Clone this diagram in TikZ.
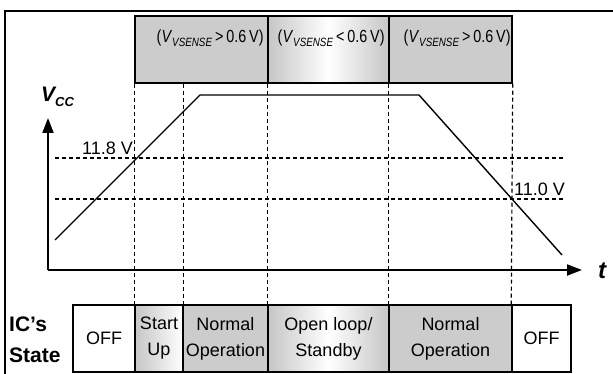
\documentclass[tikz,border=0pt]{standalone}
\usepackage{fontspec}
\setmainfont{Liberation Sans}
\newfontfamily\narrowfont{Liberation Sans}[FakeStretch=0.82]
\usepackage{xcolor}
\usepackage{tikz}
\usetikzlibrary{arrows.meta}

\newcommand{\condvs}[1]{(\textit{V}\raisebox{-4pt}{\fontsize{12}{12}\selectfont\itshape VSENSE}\,#1\,0.6\,V)}

\begin{document}
\begin{tikzpicture}[x=1pt, y=-1pt]
      % Definición de estilos
      \tikzstyle{estado}=[draw, line width=1.5pt, minimum height=67pt, inner sep=0pt, align=center, font=\fontsize{18}{26}\selectfont]
      \tikzstyle{gris}=[fill=gray!40]
      \tikzstyle{degradado}=[left color=gray!45, right color=gray!45, middle color=white]
      \tikzstyle{guia}=[dash pattern=on 4pt off 3pt, line width=1.2pt]
      \tikzstyle{eje}=[line width=2pt, -{Triangle[length=15pt, width=11pt]}]
      \tikzstyle{cond}=[font=\narrowfont\fontsize{17.5}{19}\selectfont, anchor=north east, inner sep=0pt]
      \tikzstyle{umbral}=[font=\fontsize{18}{20}\selectfont, inner sep=0pt]

      \useasboundingbox (0,0) rectangle (613,374);

      % Marco
      \draw[line width=2.5pt] (5,374) -- (5,11) -- (613,11);

      % Condiciones de VSENSE
      \node[estado, gris, minimum width=133pt] (vs1) at (201.5,49.5) {};
      \node[estado, degradado, minimum width=121pt] (vs2) at (328.5,49.5) {};
      \node[estado, gris, minimum width=123pt] (vs3) at (450.5,49.5) {};
      \node[cond] (cond1) at ([shift={(-5,14)}]vs1.north east) {\condvs{>}};
      \node[cond] (cond2) at ([shift={(-5,14)}]vs2.north east) {\condvs{<}};
      \node[cond] (cond3) at ([shift={(-2,14)}]vs3.north east) {\condvs{>}};

      % Estados del IC
      \node[estado, minimum width=62pt] (off1) at (104,338.5) {OFF};
      \node[estado, left color=gray!45, right color=white, minimum width=48pt] (arranque) at (159,338.5) {Start\\Up};
      \node[estado, gris, minimum width=85pt] (normal1) at (225.5,338.5) {Normal\\Operation};
      \node[estado, degradado, minimum width=121pt] (espera) at (328.5,338.5) {Open loop/\\Standby};
      \node[estado, gris, minimum width=123pt] (normal2) at (450.5,338.5) {Normal\\Operation};
      \node[estado, minimum width=59pt] (off2) at (541.5,338.5) {OFF};
      \node[anchor=west, align=left, inner sep=0pt, font=\bfseries\fontsize{21}{31}\selectfont] (ics) at (9,340) {IC's\\State};

      % Guías verticales
      \draw[guia] (vs1.south west) -- (arranque.north west);
      \draw[guia] (arranque.north east |- vs1.south) -- (arranque.north east);
      \draw[guia] (vs2.south west) -- (espera.north west);
      \draw[guia] (vs3.south west) -- (normal2.north west);
      \draw[guia] (vs3.south east) -- (off2.north west);

      % Ejes
      \coordinate (o) at (48,270);
      \coordinate (ytop) at (48,118);
      \coordinate (xend) at (582,270);
      \draw[eje] (o) -- (ytop);
      \draw[eje] (o) -- (xend);
      \node[anchor=base west, inner sep=0pt, font=\bfseries\itshape\fontsize{21}{22}\selectfont] (vcc) at (41,102) {V\raisebox{-5pt}{\fontsize{13}{13}\selectfont CC}};
      \node[inner sep=0pt, font=\bfseries\itshape\fontsize{24}{24}\selectfont] (t) at (602,271) {t};

      % Umbrales
      \draw[guia] (55,158) -- (563,158);
      \draw[guia] (55,199) -- (563,199);
      \node[umbral, anchor=base east] (u118) at (133,155) {11.8 V};
      \node[umbral, anchor=base west] (u110) at (514,196) {11.0 V};

      % Tensión Vcc
      \draw[line width=1.4pt] (55,240) -- (200,95) -- (419,95) -- (562,255);
    \end{tikzpicture}
\end{document}
